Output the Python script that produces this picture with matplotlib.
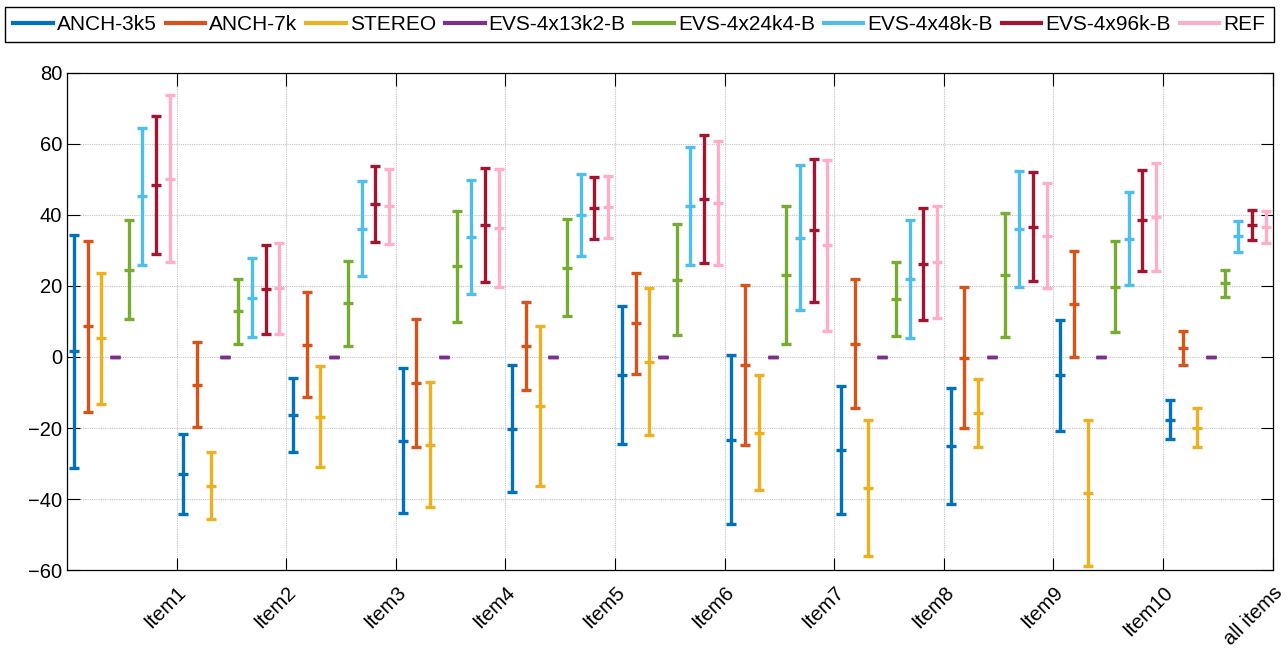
import matplotlib
matplotlib.use("Agg")
import matplotlib.pyplot as plt
from matplotlib.lines import Line2D
import numpy as np

plt.rcParams["font.family"] = ["Liberation Sans", "DejaVu Sans"]

# ── data (mean and half-width of the confidence interval per item) ────────────
items = ["Item1", "Item2", "Item3", "Item4", "Item5", "Item6",
         "Item7", "Item8", "Item9", "Item10", "all items"]
series = ["ANCH-3k5", "ANCH-7k", "STEREO", "EVS-4x13k2-B",
          "EVS-4x24k4-B", "EVS-4x48k-B", "EVS-4x96k-B", "REF"]

anch3k5_mean = [1.6, -32.9, -16.3, -23.6, -20.2, -5.1, -23.3, -26.2, -25.0, -5.2, -17.6]
anch3k5_ci   = [32.7, 11.3, 10.5, 20.4, 17.9, 19.5, 23.8, 18.1, 16.3, 15.6, 5.4]
anch7k_mean  = [8.6, -7.8, 3.5, -7.4, 3.1, 9.5, -2.3, 3.7, -0.2, 14.9, 2.5]
anch7k_ci    = [24.0, 11.9, 14.8, 18.0, 12.3, 14.2, 22.5, 18.2, 19.8, 14.8, 4.7]
stereo_mean  = [5.3, -36.2, -16.8, -24.7, -13.8, -1.3, -21.3, -36.8, -15.8, -38.3, -19.9]
stereo_ci    = [18.4, 9.4, 14.2, 17.6, 22.6, 20.6, 16.2, 19.2, 9.5, 20.5, 5.5]
evs13_mean   = [0, 0, 0, 0, 0, 0, 0, 0, 0, 0, 0]
evs13_ci     = [0, 0, 0, 0, 0, 0, 0, 0, 0, 0, 0]
evs24_mean   = [24.6, 12.8, 15.1, 25.5, 25.1, 21.7, 23.0, 16.3, 23.0, 19.8, 20.7]
evs24_ci     = [13.8, 9.1, 11.9, 15.6, 13.7, 15.6, 19.4, 10.3, 17.4, 12.9, 3.8]
evs48_mean   = [45.2, 16.6, 36.1, 33.8, 40.0, 42.5, 33.5, 21.9, 36.0, 33.3, 33.9]
evs48_ci     = [19.2, 11.1, 13.3, 16.1, 11.6, 16.7, 20.4, 16.5, 16.3, 13.0, 4.4]
evs96_mean   = [48.4, 19.0, 43.0, 37.2, 42.0, 44.4, 35.6, 26.2, 36.6, 38.5, 37.1]
evs96_ci     = [19.5, 12.6, 10.7, 16.0, 8.7, 17.9, 20.1, 15.7, 15.3, 14.2, 4.3]
ref_mean     = [50.2, 19.3, 42.4, 36.3, 42.1, 43.4, 31.4, 26.7, 34.1, 39.5, 36.6]
ref_ci       = [23.4, 12.8, 10.5, 16.5, 8.7, 17.4, 24.0, 15.8, 14.7, 15.2, 4.6]

means = [anch3k5_mean, anch7k_mean, stereo_mean, evs13_mean,
         evs24_mean, evs48_mean, evs96_mean, ref_mean]
cis = [anch3k5_ci, anch7k_ci, stereo_ci, evs13_ci,
       evs24_ci, evs48_ci, evs96_ci, ref_ci]

colors = ["#0072BD", "#D95319", "#EDB120", "#7E2F8E",
          "#77AC30", "#4DBEEE", "#A2142F", "#FFADC9"]

# ── plot ──────────────────────────────────────────────────────────────────────
fig = plt.figure(figsize=(12.88, 6.48), dpi=100)
ax = fig.add_axes([0.052, 0.120, 0.936, 0.768])

n_series = len(series)
base = np.arange(len(items))
for j in range(n_series):
    x = base + (j + 0.5) / n_series
    ax.errorbar(x, means[j], yerr=cis[j], fmt="_", color=colors[j],
                ecolor=colors[j], elinewidth=2.4, capsize=3.8, capthick=2.4,
                markersize=7.6, markeredgewidth=2.4, linestyle="none", zorder=3)

ax.set_xlim(0, len(items))
ax.set_ylim(-60, 80)
ax.set_yticks(np.arange(-60, 81, 20))
ax.set_xticks(base + 1)
ax.set_xticklabels(items, rotation=45, ha="right", rotation_mode="anchor")
ax.tick_params(direction="in", length=9, width=0.8, top=True, right=True,
               labelsize=14.5, colors="black")
ax.tick_params(axis="x", pad=9)
ax.grid(True, color="#c4c4c4", linestyle=(0, (1, 1)), linewidth=0.8, zorder=0)
for s in ax.spines.values():
    s.set_linewidth(0.9)

handles = [Line2D([0], [0], color=c, lw=3) for c in colors]
fig.legend(handles, series, loc="center", ncol=8, mode="expand",
           bbox_to_anchor=(0.0039, 0.937, 0.985, 0.05), borderaxespad=0,
           fontsize=15, handlelength=1.9, handletextpad=0.2, columnspacing=0.5,
           fancybox=False, framealpha=1, edgecolor="black")

fig.savefig("out.png", dpi=100)
